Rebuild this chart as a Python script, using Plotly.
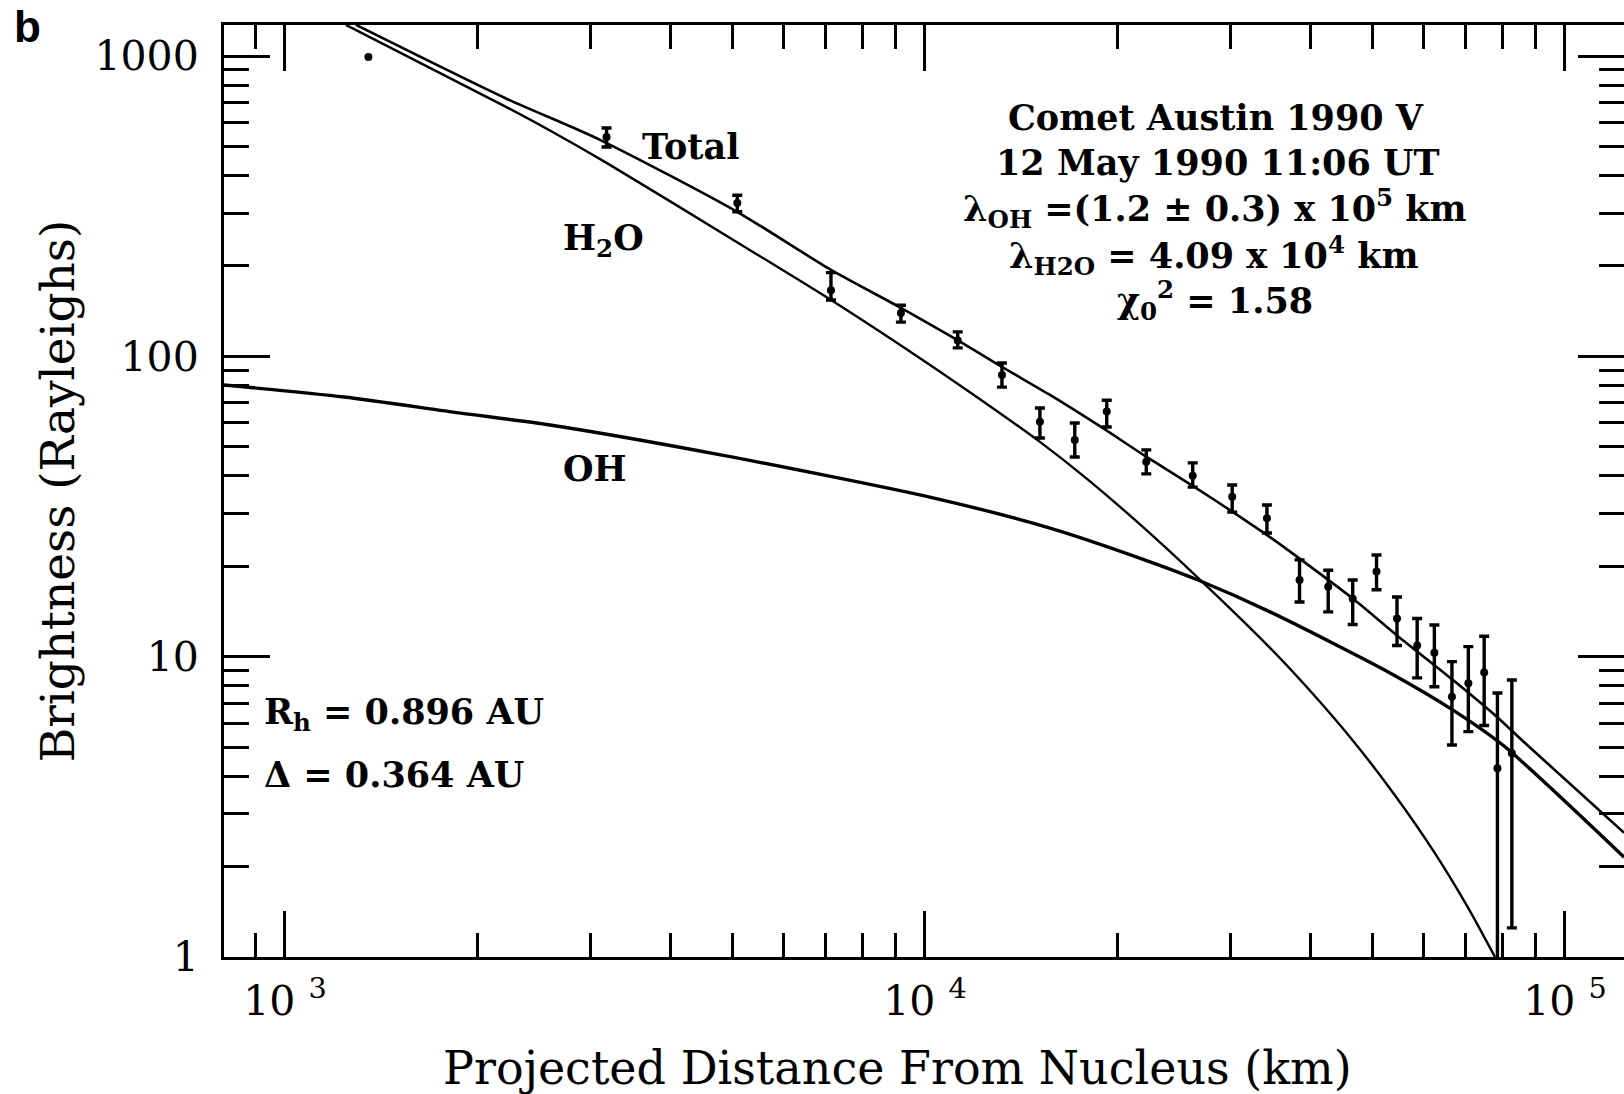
import plotly.graph_objects as go

# ---------------- data ----------------
# measured OH brightness profile (Comet Austin 1990 V)
dist_km = [1350, 3180, 5090, 7130, 9170, 11250, 13190, 15120, 17140, 19230,
           22170, 26200, 30200, 34220, 38480, 42660, 46590, 50760, 54640,
           58750, 62500, 66580, 70630, 74770, 78420, 82600]
brightness = [993, 538, 324, 166, 139.5, 113, 86.7, 60.6, 52.7, 65.5,
              44.6, 40.0, 34.1, 28.9, 18.0, 17.1, 15.6, 19.2, 13.4,
              10.9, 10.3, 7.36, 8.15, 8.85, 4.25, 4.77]
err_plus = [0, 38, 20, 24, 8.5, 7.6, 8.3, 6.7, 7.3, 5.9,
            4.2, 4.2, 3.2, 3.1, 3.0, 2.3, 2.4, 2.6, 2.4,
            2.5, 2.45, 2.27, 2.65, 2.85, 3.32, 3.59]
err_minus = [0, 40, 21, 12, 9.5, 6.3, 7.7, 7.1, 6.5, 7.3,
             4.0, 3.3, 3.8, 3.1, 2.8, 3.0, 2.8, 2.5, 2.5,
             2.4, 2.36, 2.28, 2.52, 2.95, 4.0, 3.52]

# model curves
total_x = [1291, 2207, 3106, 5085, 7131, 9173, 11260, 13190, 15680, 18840,
           22070, 26230, 30280, 34600, 38960, 46810, 54830, 66830, 78300,
           86940, 123700]
total_y = [1270, 725, 526, 303, 194, 145, 113, 92.2, 74.4, 58.2,
           46.6, 37.0, 30.3, 25.0, 20.8, 15.5, 11.7, 8.36, 6.30,
           5.12, 2.59]

h2o_x = [1245, 2207, 2594, 3185, 5085, 7131, 9272, 11800, 15120, 17910,
         21830, 26710, 34600, 40390, 46810, 54050, 62430, 70300, 77740]
h2o_y = [1270, 680, 565, 440, 240, 154, 107, 75.5, 51.9, 39.1,
         27.2, 18.3, 10.7, 7.51, 5.20, 3.49, 2.24, 1.48, 1.0]

oh_x = [803, 1237, 1870, 2594, 4818, 10290, 15680, 22470, 26710, 34600,
        53280, 66830, 80300, 123700]
oh_y = [80.3, 73.2, 64.8, 59.1, 46.9, 33.8, 26.8, 20.7, 18.0, 14.1,
        8.83, 6.64, 5.04, 2.15]

x_major = [1e3, 1e4, 1e5]
x_major_text = ["10 <sup>3</sup>", "10 <sup>4</sup>", "10 <sup>5</sup>"]
y_major = [1, 10, 100, 1000]
y_major_text = ["1", "10", "100", "1000"]

# ---------------- figure ----------------
W, H = 1624, 1094
L, R, T, B = 224, 0, 25, 137
FONT = "DejaVu Serif"


def px(X):
    return (X - L) / (W - L - R)


def py(Y):
    return (H - B - Y) / (H - B - T)


fig = go.Figure()
line_style = dict(color="black", shape="spline", smoothing=0.7)
fig.add_trace(go.Scatter(x=oh_x, y=oh_y, mode="lines",
                         line=dict(width=3.4, **line_style),
                         hoverinfo="skip", showlegend=False))
fig.add_trace(go.Scatter(x=h2o_x, y=h2o_y, mode="lines",
                         line=dict(width=2.4, **line_style),
                         hoverinfo="skip", showlegend=False))
fig.add_trace(go.Scatter(x=total_x, y=total_y, mode="lines",
                         line=dict(width=2.6, **line_style),
                         hoverinfo="skip", showlegend=False))
fig.add_trace(go.Scatter(
    x=dist_km[1:], y=brightness[1:], mode="markers",
    marker=dict(color="black", size=8),
    error_y=dict(type="data", symmetric=False, array=err_plus[1:],
                 arrayminus=err_minus[1:], color="black", thickness=3.4, width=5),
    showlegend=False))
fig.add_trace(go.Scatter(x=dist_km[:1], y=brightness[:1], mode="markers",
                         marker=dict(color="black", size=8), showlegend=False))

x_minor = [m * 10 ** e for e in (2, 3, 4) for m in range(2, 10)]
y_minor = [m * 10 ** e for e in (0, 1, 2) for m in range(2, 10)]

axis_common = dict(
    showline=True, linecolor="black", linewidth=3, mirror="allticks",
    ticks="inside", tickwidth=3, tickcolor="black",
    showgrid=False, zeroline=False, automargin=False,
    tickfont=dict(family=FONT, size=41, color="black"),
)

fig.update_xaxes(
    type="log", range=[2.9047, 5.0922],
    tickmode="array", tickvals=x_major, ticktext=x_major_text, ticklen=46,
    minor=dict(tickmode="array", tickvals=x_minor, ticks="inside", ticklen=24,
               tickwidth=2.6, tickcolor="black", showgrid=False),
    ticklabelstandoff=6,
    **axis_common)

fig.update_yaxes(
    type="log", range=[0, 3.1033],
    tickmode="array", tickvals=y_major, ticktext=y_major_text, ticklen=46,
    minor=dict(tickmode="array", tickvals=y_minor, ticks="inside", ticklen=25,
               tickwidth=2.6, tickcolor="black", showgrid=False),
    ticklabelstandoff=14,
    title=dict(text="Brightness (Rayleighs)",
               font=dict(family=FONT, size=47, color="black"), standoff=6),
    **axis_common)

ann_font = dict(family=FONT, size=35, color="black", weight="bold")


def note(text, X, Y, xanchor="center", font=ann_font):
    fig.add_annotation(text=text, xref="paper", yref="paper", x=px(X), y=py(Y),
                       xanchor=xanchor, yanchor="middle", showarrow=False,
                       font=font)


# x-axis title (placed as text so it can sit left of the plot centre, as in the original)
note("Projected Distance From Nucleus (km)", 897, 1068,
     font=dict(family=FONT, size=46, color="black"))

note("Total", 640, 146, "left")
note("H<sub>2</sub>O", 561, 240, "left")
note("OH", 561, 469, "left")
note("Comet Austin 1990 V", 1216, 117)
note("12 May 1990 11:06 UT", 1218, 162)
note("λ<sub>OH</sub> =(1.2 ± 0.3) x 10<sup>5</sup> km", 1215, 208)
note("λ<sub>H2O</sub> = 4.09 x 10<sup>4</sup> km", 1214, 255)
note("χ<sub>0</sub><sup>2</sup> = 1.58", 1215, 300)
note("R<sub>h</sub> = 0.896 AU", 262, 714, "left")
note("Δ = 0.364 AU", 262, 774, "left")

fig.add_annotation(text="<b>b</b>", xref="paper", yref="paper",
                   x=px(12), y=py(0), xanchor="left", yanchor="top",
                   showarrow=False,
                   font=dict(family="Liberation Sans", size=44, color="black"))

fig.update_layout(
    width=W, height=H, template="none",
    margin=dict(l=L, r=R, t=T, b=B, pad=0),
    paper_bgcolor="white", plot_bgcolor="white",
    showlegend=False,
)

# remove the browser's default 8px page margin so the figure fills the window exactly
fig.write_html("out.html",
               config={"displayModeBar": False},
               post_script="document.body.style.margin='0';"
                           "document.body.style.overflow='hidden';")
